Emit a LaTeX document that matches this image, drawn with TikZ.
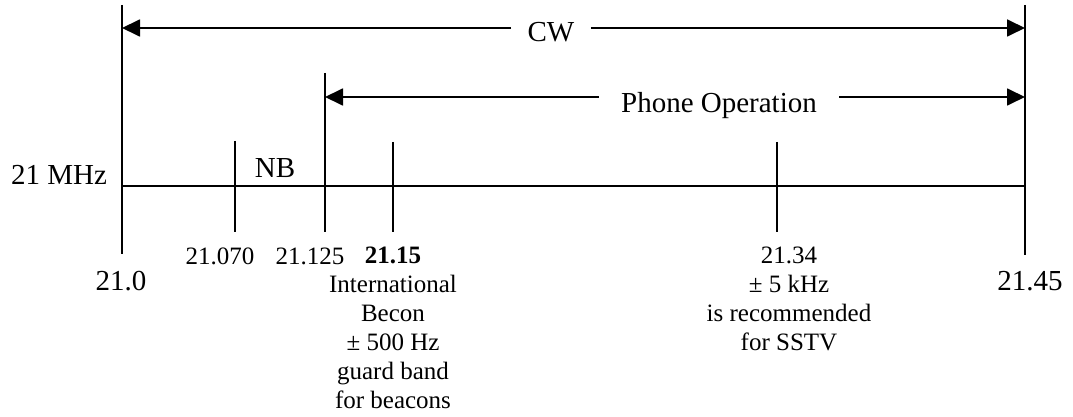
\documentclass[tikz,border=0pt]{standalone}
\usepackage{fontspec}
\setmainfont{Liberation Serif}
\usetikzlibrary{arrows.meta}

\tikzset{
  band/.style={-{Triangle[length=9pt,width=8.5pt]}, line width=.9pt},
  tick/.style={line width=.9pt},
  big/.style={font=\fontsize{14.5}{17}\selectfont, inner sep=0pt},
  small/.style={font=\fontsize{12.5}{14.5}\selectfont, inner sep=0pt, align=center},
  gaplabel/.style={big, inner xsep=8pt}
}

\begin{document}
\begin{tikzpicture}[x=.5pt, y=-.5pt]
  \useasboundingbox (0,0) rectangle (1073,417);
  % band edges and main line
  \coordinate (lotop) at (122,5);   \coordinate (lobot) at (122,254);
  \coordinate (hitop) at (1025,5);  \coordinate (hibot) at (1025,255);
  \coordinate (lomid) at (122,186); \coordinate (himid) at (1025,186);
  \draw [tick] (lotop) -- (lobot);
  \draw [tick] (hitop) -- (hibot);
  \draw [tick] (lomid) -- (himid);
  % sub band ticks
  \foreach \x/\top in {235/141, 325/73, 393/142, 777/142}
    \draw [tick] (\x,\top) -- (\x,232);
  % CW
  \coordinate (cwL) at (122,28);  \coordinate (cwR) at (1025,28);
  \node [gaplabel, anchor=base] (cw) at (551,42) {CW};
  \draw [band] (cw.west |- cwL) -- (cwL);
  \draw [band] (cw.east |- cwR) -- (cwR);
  % phone
  \coordinate (phL) at (325,97);  \coordinate (phR) at (1025,97);
  \node [gaplabel, anchor=base, inner xsep=11pt] (phone) at (719,113) {Phone Operation};
  \draw [band] (phone.west |- phL) -- (phL);
  \draw [band] (phone.east |- phR) -- (phR);
  % labels
  \node [big, anchor=base] (band) at (59,185) {21 MHz};
  \node [big, anchor=base] (nb) at (275,178) {NB};
  \node [big, anchor=base] (f0) at (121,291) {21.0};
  \node [big, anchor=base] (f5) at (1030,291) {21.45};
  \node [small, anchor=base] (f1) at (220,265) {21.070};
  \node [small, anchor=base] (f2) at (310,265) {21.125};
  \node [small, anchor=north] (f3) at (393,247) {\textbf{21.15}\\International\\Becon\\± 500 Hz\\guard band\\for beacons};
  \node [small, anchor=north] (f4) at (789,247) {21.34\\± 5 kHz\\is recommended\\for SSTV};
\end{tikzpicture}
\end{document}
